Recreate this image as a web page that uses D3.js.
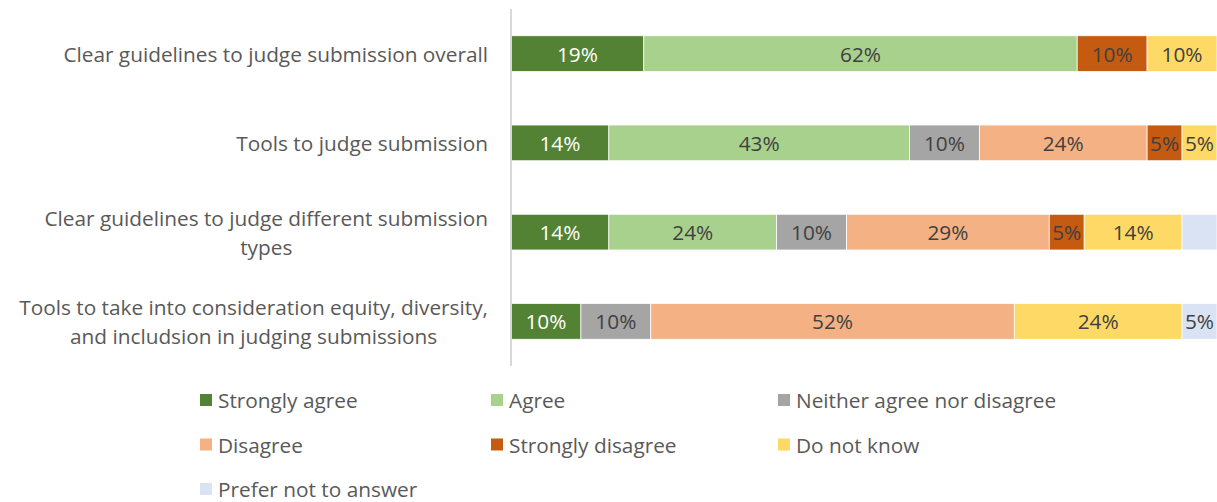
<!DOCTYPE html>
<html>
<head>
<meta charset="utf-8">
<script src="https://cdn.jsdelivr.net/npm/d3@7"></script>
<style>
  html, body { margin: 0; padding: 0; background: #fff; }
  svg { display: block; font-family: "Open Sans", "Noto Sans", sans-serif; }
</style>
</head>
<body>
<svg id="chart" width="1217" height="502"></svg>
<script>
// Survey items (top to bottom)
const categories = [
  "Clear guidelines to judge submission overall",
  "Tools to judge submission",
  "Clear guidelines to judge different submission types",
  "Tools to take into consideration equity, diversity, and includsion in judging submissions"
];

// Response options, in stacking order
const responses = [
  "Strongly agree",
  "Agree",
  "Neither agree nor disagree",
  "Disagree",
  "Strongly disagree",
  "Do not know",
  "Prefer not to answer"
];

const colors = ["#548235", "#A9D18E", "#A5A5A5", "#F4B183", "#C55A11", "#FFD966", "#DAE3F3"];

// Percentage of respondents per response option, one array per item
const stronglyAgree   = [19, 14, 14, 10];
const agree           = [62, 43, 24, 0];
const neither         = [0, 10, 10, 10];
const disagree        = [0, 24, 29, 52];
const stronglyDisagree= [10, 5, 5, 0];
const doNotKnow       = [10, 5, 14, 24];
const preferNot       = [0, 0, 5, 5];

// Segments whose value label is not printed: [item index, response index]
const unlabeled = [[2, 6]];

const seriesValues = [stronglyAgree, agree, neither, disagree, stronglyDisagree, doNotKnow, preferNot];

const rows = categories.map((c, i) => {
  const r = { category: c };
  responses.forEach((k, j) => { r[k] = seriesValues[j][i]; });
  return r;
});

const svg = d3.select("#chart");
const plot = { left: 511, right: 1217, top: 9, bottom: 366 };

// 100% stacked: each row is normalised to its own total
const stack = d3.stack().keys(responses).offset(d3.stackOffsetExpand);
const stacked = stack(rows);

const x = d3.scaleLinear().domain([0, 1]).range([plot.left, plot.right]);
const y = d3.scaleBand().domain(categories).range([plot.top, plot.bottom])
  .paddingInner(0.6).paddingOuter(0.3);
const color = d3.scaleOrdinal().domain(responses).range(colors);

const fontSize = 20.8;
const textColor = "#595959";

// Bars
const layers = svg.append("g").selectAll("g.layer")
  .data(stacked).join("g")
  .attr("class", "layer")
  .attr("fill", d => color(d.key));

layers.selectAll("rect")
  .data(d => d.map(s => ({ s, key: d.key })))
  .join("rect")
  .attr("x", d => x(d.s[0]))
  .attr("y", d => y(d.s.data.category))
  .attr("width", d => Math.max(0, x(d.s[1]) - x(d.s[0])))
  .attr("height", y.bandwidth())
  .attr("stroke", "#fff")
  .attr("stroke-width", 0.75);

// Value labels
const isHidden = (i, j) => unlabeled.some(u => u[0] === i && u[1] === j);
stacked.forEach((layer, j) => {
  layer.forEach((s, i) => {
    const v = seriesValues[j][i];
    if (!v || isHidden(i, j)) return;
    svg.append("text")
      .attr("x", (x(s[0]) + x(s[1])) / 2)
      .attr("y", y(categories[i]) + y.bandwidth() / 2)
      .attr("text-anchor", "middle")
      .attr("dominant-baseline", "central")
      .attr("font-size", fontSize)
      .attr("fill", j === 0 ? "#ffffff" : "#404040")
      .text(v + "%");
  });
});

// Vertical category axis line
svg.append("line")
  .attr("x1", plot.left).attr("x2", plot.left)
  .attr("y1", plot.top).attr("y2", plot.bottom)
  .attr("stroke", "#d9d9d9").attr("stroke-width", 2);

// Category labels, wrapped and centred as a block, right-aligned to the axis
const labelRight = 488;
const maxLabelWidth = 482;
const lineHeight = 29;

categories.forEach(cat => {
  const g = svg.append("g");
  const probe = g.append("text").attr("font-size", fontSize);
  const words = cat.split(" ");
  const lines = [];
  let line = [];
  words.forEach(w => {
    const test = line.concat(w).join(" ");
    probe.text(test);
    if (probe.node().getComputedTextLength() > maxLabelWidth && line.length) {
      lines.push(line.join(" "));
      line = [w];
    } else {
      line.push(w);
    }
  });
  lines.push(line.join(" "));
  const widths = lines.map(l => { probe.text(l); return probe.node().getComputedTextLength(); });
  probe.remove();
  const blockW = d3.max(widths);
  const cx = labelRight - blockW / 2;
  const cy = y(cat) + y.bandwidth() / 2;
  lines.forEach((l, k) => {
    g.append("text")
      .attr("x", cx)
      .attr("y", cy + (k - (lines.length - 1) / 2) * lineHeight)
      .attr("text-anchor", "middle")
      .attr("dominant-baseline", "central")
      .attr("font-size", fontSize)
      .attr("fill", textColor)
      .text(l);
  });
});

// Legend: three columns
const legendCols = [200, 491, 778];
const legendRows = [400, 444.5, 489];
const box = 12;
const legend = svg.append("g").selectAll("g")
  .data(responses).join("g")
  .attr("transform", (d, i) => `translate(${legendCols[i % 3]},${legendRows[Math.floor(i / 3)]})`);
legend.append("rect")
  .attr("x", 0).attr("y", -box / 2)
  .attr("width", box).attr("height", box)
  .attr("fill", d => color(d));
legend.append("text")
  .attr("x", 18).attr("y", 0)
  .attr("dominant-baseline", "central")
  .attr("font-size", fontSize)
  .attr("fill", textColor)
  .text(d => d);
</script>
</body>
</html>
